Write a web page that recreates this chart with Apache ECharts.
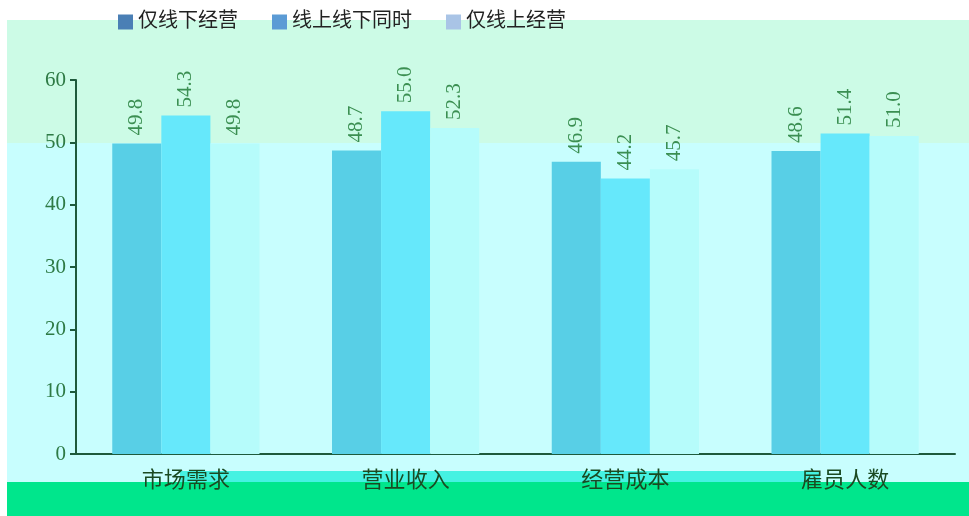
<!DOCTYPE html>
<html><head><meta charset="utf-8">
<script src="https://cdn.jsdelivr.net/npm/echarts@6/dist/echarts.min.js"></script>
<style>html,body{margin:0;padding:0;background:#fff}#c{width:969px;height:516px}</style>
</head><body><div id="c"></div>
<script>
var categories = ['市场需求', '营业收入', '经营成本', '雇员人数'];
var seriesNames = ['仅线下经营', '线上线下同时', '仅线上经营'];
var offlineOnly = [49.8, 48.7, 46.9, 48.6];
var both = [54.3, 55.0, 44.2, 51.4];
var onlineOnly = [49.8, 52.3, 45.7, 51.0];
var yTicks = [0, 10, 20, 30, 40, 50, 60];

var font = '"Liberation Serif", "Noto Sans CJK SC", serif';
var chart = echarts.init(document.getElementById('c'));
function lbl() {
  return {show: true, position: 'top', rotate: 90, align: 'left', verticalAlign: 'middle',
    distance: 8, color: '#3b8f52', fontSize: 21, fontFamily: font,
    formatter: function (p) { return p.value.toFixed(1); }};
}
var barColors = ['#58cfe6', '#66e8fb', '#b6fcfb'];
var legendColors = ['#4a7fb5', '#5b9bd5', '#a9c4e6'];
var data = [offlineOnly, both, onlineOnly];
chart.setOption({
  animation: false,
  graphic: [
    {type: 'rect', z: -10, silent: true, shape: {x: 7, y: 20, width: 962, height: 123}, style: {fill: '#ccfbe6'}},
    {type: 'rect', z: -10, silent: true, shape: {x: 7, y: 143, width: 962, height: 339}, style: {fill: '#c8fefe'}},
    {type: 'rect', z: -10, silent: true, shape: {x: 180, y: 471, width: 640, height: 11}, style: {fill: '#45f2e2'}},
    {type: 'rect', z: -10, silent: true, shape: {x: 7, y: 482, width: 962, height: 34}, style: {fill: '#00e68c'}}
  ],
  legend: {
    left: 113, top: 7, itemWidth: 15, itemHeight: 15, itemGap: 34,
    icon: 'rect',
    textStyle: {fontSize: 20, color: '#222', fontFamily: font},
    data: seriesNames.map(function (n, i) { return {name: n, itemStyle: {color: legendColors[i]}}; })
  },
  grid: {left: 76, top: 80, right: 14, bottom: 62, containLabel: false},
  xAxis: {
    type: 'category', data: categories,
    axisLine: {lineStyle: {color: '#1e5a3c', width: 2}},
    axisTick: {show: false},
    axisLabel: {fontSize: 22, color: '#1a4a22', fontFamily: font, margin: 16}
  },
  yAxis: {
    type: 'value', min: yTicks[0], max: yTicks[yTicks.length - 1], interval: 10,
    axisLine: {show: true, lineStyle: {color: '#1e5a3c', width: 2}},
    axisTick: {show: true, length: 6, lineStyle: {color: '#1e5a3c', width: 2}},
    splitLine: {show: false},
    axisLabel: {fontSize: 21, color: '#2e7a45', fontFamily: font, margin: 10}
  },
  series: seriesNames.map(function (n, i) {
    return {name: n, type: 'bar', data: data[i], barGap: '0%', barCategoryGap: '33%',
      itemStyle: {color: barColors[i]}, label: lbl()};
  })
});
</script></body></html>
